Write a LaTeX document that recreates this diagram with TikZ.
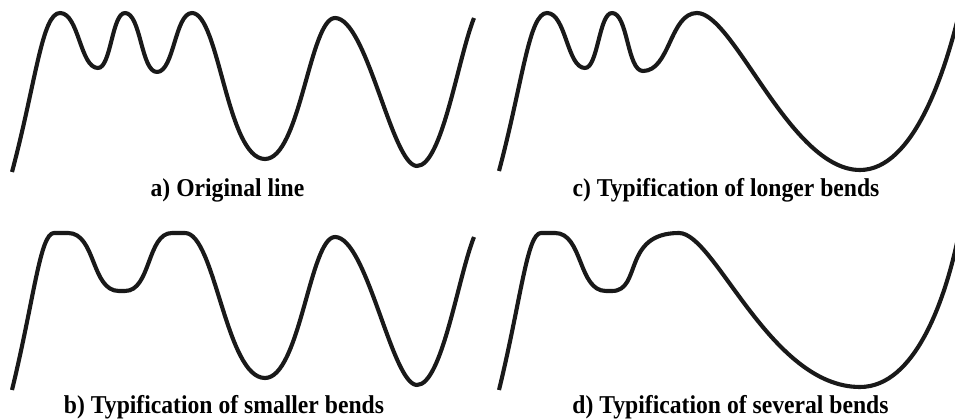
\documentclass[tikz,border=0pt]{standalone}
\usepackage{fontspec}
\setmainfont{Liberation Serif}
\newcommand{\captext}[1]{\scalebox{0.985}[1.07]{#1}}
\begin{document}
\begin{tikzpicture}[x=1pt,y=-1pt,
  wave/.style={line width=4.1pt,line cap=butt,line join=round,black!90},
  caption/.style={anchor=base,inner sep=0pt,font=\fontsize{24}{28}\selectfont\bfseries}]
\useasboundingbox (0,0) rectangle (955,419);
\clip (0,0) rectangle (955,419);
% a) original line
\draw[wave] (12,172) .. controls (36,82) and (42,13) .. (60,13)
  .. controls +(19,0) and +(-18,0) .. (98,68)
  .. controls +(13,0) and +(-13,0) .. (125,13)
  .. controls +(16,0) and +(-16,0) .. (157,72)
  .. controls +(17,0) and +(-17,0) .. (192,13)
  .. controls +(27,0) and +(-38,0) .. (265,159)
  .. controls +(35,0) and +(-25,0) .. (335,18)
  .. controls +(32,0) and +(-25,0) .. (417,166)
  .. controls (442,166) and (458,58) .. (474,18);
\node[caption] (la) at (227.5,197) {\captext{a) Original line}};
% c) longer bends
\draw[wave] (499,171) .. controls (523,81) and (529,13) .. (547,13)
  .. controls +(19,0) and +(-18,0) .. (585,68)
  .. controls +(13,0) and +(-13,0) .. (612,13)
  .. controls +(16,0) and +(-16,0) .. (643,71)
  .. controls (670,71) and (670,13) .. (697,13)
  .. controls (734,13) and (790,170) .. (860,170)
  .. controls (914,170) and (945,70) .. (958,18);
\node[caption] (lc) at (726,197) {\captext{c) Typification of longer bends}};
% b) smaller bends
\draw[wave] (12,390) .. controls (34,300) and (40,233) .. (54,233)
  -- (68,233)
  .. controls (96,233) and (91,291) .. (119,291)
  -- (125,291)
  .. controls (151,291) and (147,233) .. (172,233)
  -- (185,233)
  .. controls (215,233) and (226,378) .. (265,378)
  .. controls +(35,0) and +(-25,0) .. (335,237)
  .. controls +(32,0) and +(-25,0) .. (417,385)
  .. controls (442,385) and (458,277) .. (474,237);
\node[caption] (lb) at (224,413) {\captext{b) Typification of smaller bends}};
% d) several bends
\draw[wave] (499,390) .. controls (521,300) and (527,233) .. (541,233)
  -- (555,233)
  .. controls (583,233) and (578,291) .. (606,291)
  -- (612,291)
  .. controls (642,291) and (622,233) .. (679,233)
  .. controls (715,233) and (770,387) .. (860,387)
  .. controls (915,387) and (945,300) .. (958,238);
\node[caption] (ld) at (730.5,413) {\captext{d) Typification of several bends}};
\end{tikzpicture}
\end{document}
